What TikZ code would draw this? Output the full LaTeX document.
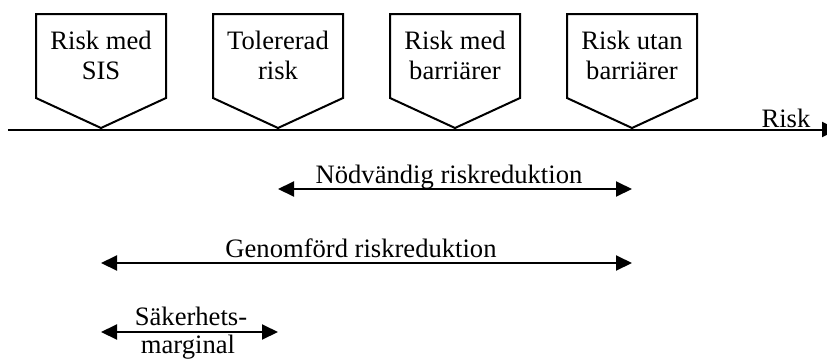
\documentclass[tikz,border=0pt]{standalone}
\usepackage{fontspec}
\setmainfont{Liberation Serif}
\usetikzlibrary{arrows.meta}

\begin{document}
\begin{tikzpicture}[
    x=0.5pt, y=-0.5pt,
    marker/.style={draw, line width=1pt, line join=miter},
    lbl/.style={font=\fontsize{13.3}{15}\selectfont, inner sep=0pt, align=center},
    axis/.style={line width=1pt, -{Triangle[length=8pt,width=7.5pt]}},
    span/.style={line width=1pt, {Triangle[length=8pt,width=7.5pt]}-{Triangle[length=8pt,width=7.5pt]}}
]
\clip (0,0) rectangle (827,360);
% markers standing on the risk axis
\foreach \x/\name/\txt in {101/sis/{Risk med\\SIS}, 278/tol/{Tolererad\\risk},
                           455/med/{Risk med\\barriärer}, 632/utan/{Risk utan\\barriärer}} {
    \draw[marker] (\x-65,98) -- (\x-65,14) -- (\x+65,14) -- (\x+65,98) -- (\x,128) -- cycle;
    \coordinate (\name) at (\x,128);
    \node[lbl] (\name-txt) at (\x,55) {\txt};
}

% risk axis
\coordinate (start) at (8,129.5);
\coordinate (end) at (838,129.5);
\draw[axis] (start) -- (end);
\node[lbl, anchor=base] (risk) at (786,127) {Risk};

% rows of the reductions
\coordinate (row1) at (0,189);
\coordinate (row2) at (0,263);
\coordinate (row3) at (0,332);

\draw[span] (tol |- row1) -- (utan |- row1);
\node[lbl, anchor=base] (nod) at (449,183) {Nödvändig riskreduktion};

\draw[span] (sis |- row2) -- (utan |- row2);
\node[lbl, anchor=base] (gen) at (361,257) {Genomförd riskreduktion};

\draw[span] (sis |- row3) -- (tol |- row3);
\node[lbl, anchor=base] (sak) at (191,325) {Säkerhets-};
\node[lbl, anchor=base] (marg) at (188,353) {marginal};
\end{tikzpicture}
\end{document}
